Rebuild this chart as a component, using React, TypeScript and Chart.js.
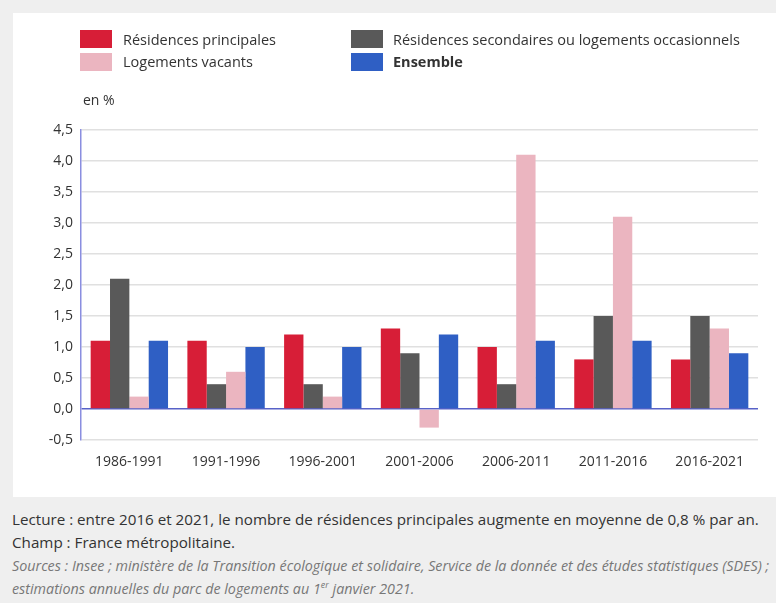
import React, { useEffect, useRef } from "react";
import { Chart, registerables } from "chart.js";

Chart.register(...registerables);

const categories = ["1986-1991", "1991-1996", "1996-2001", "2001-2006", "2006-2011", "2011-2016", "2016-2021"];
const principales = [1.1, 1.1, 1.2, 1.3, 1.0, 0.8, 0.8];
const secondaires = [2.1, 0.4, 0.4, 0.9, 0.4, 1.5, 1.5];
const vacants = [0.2, 0.6, 0.2, -0.3, 4.1, 3.1, 1.3];
const ensemble = [1.1, 1.0, 1.0, 1.2, 1.1, 1.1, 0.9];
const yMin = -0.5;
const yMax = 4.5;
const yStep = 0.5;

const labels = {
  principales: "Résidences principales",
  secondaires: "Résidences secondaires ou logements occasionnels",
  vacants: "Logements vacants",
  ensemble: "Ensemble",
};

const colors = {
  principales: "#d71e37",
  secondaires: "#595959",
  vacants: "#ebb5c0",
  ensemble: "#2f5fc4",
};

const FONT = "'Open Sans', 'Noto Sans', sans-serif";

export default function App() {
  const canvasRef = useRef<HTMLCanvasElement | null>(null);

  useEffect(() => {
    document.body.style.margin = "0";
    const canvas = canvasRef.current;
    if (!canvas) return;
    const chart = new Chart(canvas, {
      type: "bar",
      data: {
        labels: categories,
        datasets: [
          { label: labels.principales, data: principales, backgroundColor: colors.principales },
          { label: labels.secondaires, data: secondaires, backgroundColor: colors.secondaires },
          { label: labels.vacants, data: vacants, backgroundColor: colors.vacants },
          { label: labels.ensemble, data: ensemble, backgroundColor: colors.ensemble },
        ],
      },
      options: {
        animation: false,
        responsive: false,
        maintainAspectRatio: false,
        layout: { padding: { left: 41, right: 18, top: 130, bottom: 30 } },
        datasets: { bar: { categoryPercentage: 0.8, barPercentage: 1.0 } },
        plugins: {
          legend: { display: false },
          tooltip: { enabled: false },
        },
        scales: {
          x: {
            grid: { display: false, drawTicks: false },
            border: { display: false },
            ticks: {
              color: "#333333",
              font: { family: FONT, size: 14 },
              padding: 14,
              maxRotation: 0,
            },
            afterFit: (s: any) => {
              s.height = 30;
            },
          },
          y: {
            min: yMin,
            max: yMax,
            grid: {
              drawTicks: false,
              color: (ctx: any) => (ctx.tick && ctx.tick.value === 0 ? "#5862c8" : "#e0e0e0"),
              lineWidth: 1.5,
            },
            border: { display: true, color: "#8a8ee0", width: 1.5 },
            ticks: {
              stepSize: yStep,
              color: "#333333",
              font: { family: FONT, size: 14 },
              padding: 8,
              callback: (v: any) => Number(v).toFixed(1).replace(".", ","),
            },
            afterFit: (s: any) => {
              s.width = 40;
            },
          },
        },
      },
    });
    return () => chart.destroy();
  }, []);

  const legendText: React.CSSProperties = {
    position: "absolute",
    fontFamily: FONT,
    fontSize: 14.5,
    color: "#333333",
    lineHeight: "18px",
    whiteSpace: "nowrap",
  };
  const box = (left: number, top: number, color: string): React.CSSProperties => ({
    position: "absolute",
    left,
    top,
    width: 32,
    height: 18,
    background: color,
  });
  const srcStyle: React.CSSProperties = { fontStyle: "italic", color: "#777777", fontSize: 14.3 };

  return (
    <div style={{ position: "relative", width: 776, height: 603, background: "#efefef", overflow: "hidden" }}>
      <div style={{ position: "absolute", left: 13, top: 13, width: 763, height: 484, background: "#ffffff" }} />
      <canvas ref={canvasRef} width={776} height={500} style={{ position: "absolute", left: 0, top: 0, width: 776, height: 500 }} />
      <div style={box(80, 30, colors.principales)} />
      <div style={{ ...legendText, left: 123, top: 31 }}>{labels.principales}</div>
      <div style={box(80, 53, colors.vacants)} />
      <div style={{ ...legendText, left: 123, top: 53 }}>{labels.vacants}</div>
      <div style={box(351, 30, colors.secondaires)} />
      <div style={{ ...legendText, left: 393, top: 31 }}>{labels.secondaires}</div>
      <div style={box(351, 53, colors.ensemble)} />
      <div style={{ ...legendText, left: 393, top: 53, fontWeight: 700 }}>{labels.ensemble}</div>
      <div style={{ ...legendText, left: 83, top: 91, fontSize: 14 }}>en %</div>
      <div style={{ position: "absolute", left: 12, top: 508, fontFamily: FONT, fontSize: 15.2, color: "#333333", lineHeight: "23px", whiteSpace: "nowrap" }}>
        <div>Lecture : entre 2016 et 2021, le nombre de résidences principales augmente en moyenne de 0,8 % par an.</div>
        <div>Champ : France métropolitaine.</div>
        <div style={srcStyle}>
          Sources : Insee ; ministère de la Transition écologique et solidaire, Service de la donnée et des études statistiques (SDES) ;
        </div>
        <div style={srcStyle}>
          estimations annuelles du parc de logements au 1<sup style={{ fontSize: 9, lineHeight: 0 }}>er</sup> janvier 2021.
        </div>
      </div>
    </div>
  );
}
